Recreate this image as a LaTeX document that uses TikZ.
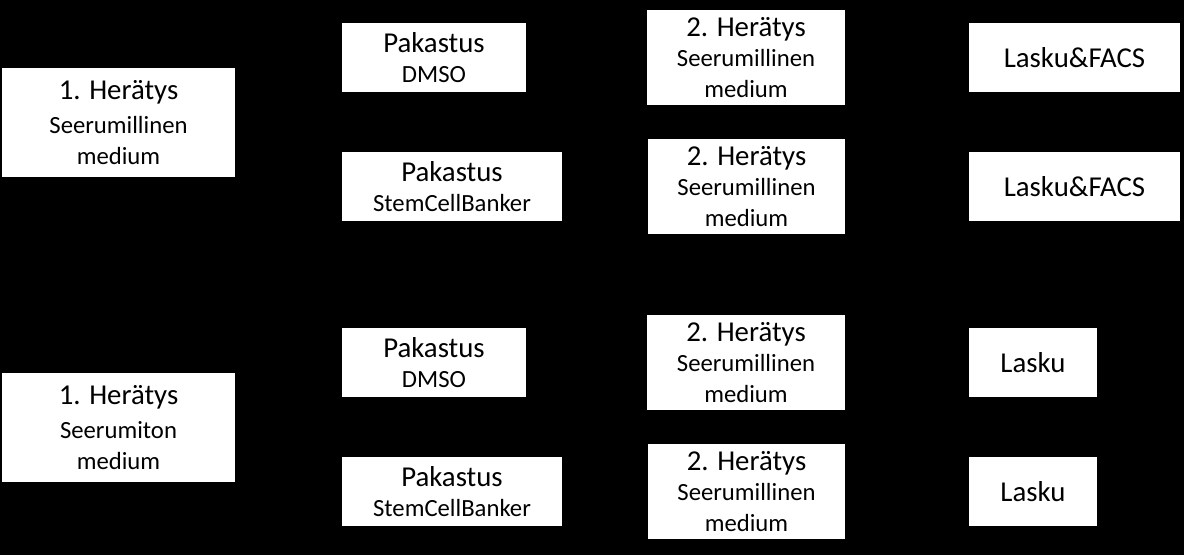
\documentclass[tikz,border=0pt]{standalone}
\usepackage{fontspec}
\setmainfont{Carlito}
\usetikzlibrary{positioning}

\newcommand{\bigline}[1]{{\fontsize{28.8}{33}\selectfont #1}}

\begin{document}
\begin{tikzpicture}[x=1pt, y=-1pt,
box/.style={fill=white, draw=none, inner sep=0pt, align=center,
 font=\fontsize{24.7}{30.5}\selectfont},
box/.default={}]

    \useasboundingbox (0,0) rectangle (1184,555);
    \fill[black] (0,0) rectangle (1184,555);

    % ensimmainen heratys
    \node[box, minimum width=233pt, minimum height=109pt] (her1a) at (118.5,122.5)
        {\bigline{1. Herätys}\\[4pt]Seerumillinen\\medium};
    \node[box, minimum width=233pt, minimum height=109pt] (her1b) at (118.5,427.5)
        {\bigline{1. Herätys}\\[4pt]Seerumiton\\medium};

    % pakastus
    \node[box, minimum width=184pt, minimum height=69pt] (pak1) at (434,57.5)
        {\bigline{Pakastus}\\DMSO};
    \node[box, minimum width=220pt, minimum height=69pt] (pak2) at (452,186.5)
        {\bigline{Pakastus}\\StemCellBanker};
    \node[box, minimum width=184pt, minimum height=69pt] (pak3) at (434,362.5)
        {\bigline{Pakastus}\\DMSO};
    \node[box, minimum width=220pt, minimum height=69pt] (pak4) at (452,491.5)
        {\bigline{Pakastus}\\StemCellBanker};

    % toinen heratys
    \node[box, minimum width=198pt, minimum height=95pt] (her2a) at (746,57.5)
        {\bigline{2. Herätys}\\Seerumillinen\\medium};
    \node[box, minimum width=197pt, minimum height=95pt] (her2b) at (746.5,186.5)
        {\bigline{2. Herätys}\\Seerumillinen\\medium};
    \node[box, minimum width=198pt, minimum height=95pt] (her2c) at (746,362.5)
        {\bigline{2. Herätys}\\Seerumillinen\\medium};
    \node[box, minimum width=197pt, minimum height=95pt] (her2d) at (746.5,491.5)
        {\bigline{2. Herätys}\\Seerumillinen\\medium};

    % lasku
    \node[box, minimum width=211pt, minimum height=69pt] (las1) at (1074.5,57.5)
        {\bigline{Lasku\&FACS}};
    \node[box, minimum width=211pt, minimum height=69pt] (las2) at (1074.5,186.5)
        {\bigline{Lasku\&FACS}};
    \node[box, minimum width=128pt, minimum height=69pt] (las3) at (1033,362.5)
        {\bigline{Lasku}};
    \node[box, minimum width=128pt, minimum height=69pt] (las4) at (1033,491.5)
        {\bigline{Lasku}};

\end{tikzpicture}
\end{document}
